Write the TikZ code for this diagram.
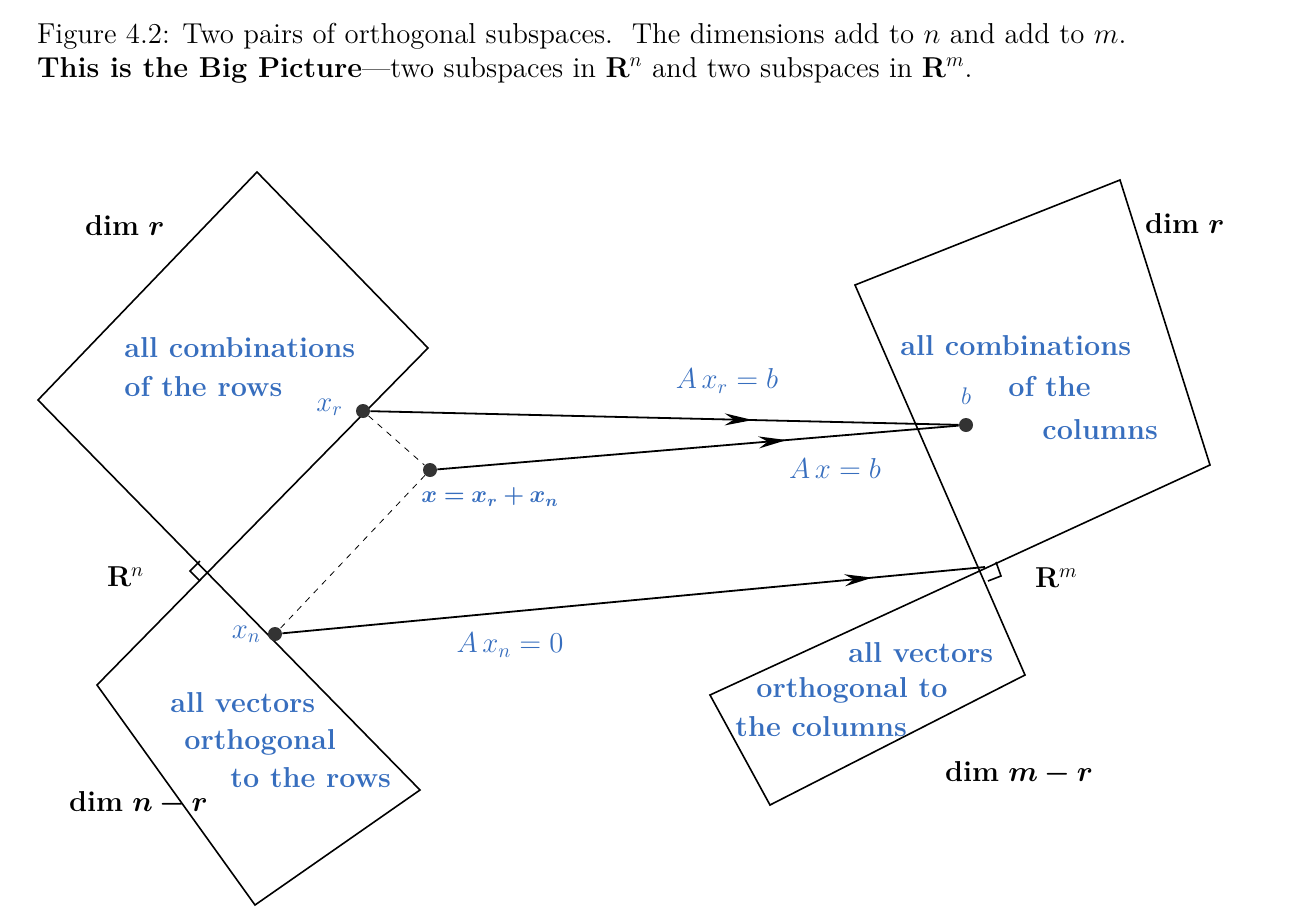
\documentclass[tikz,border=0pt]{standalone}
\usepackage{amsmath,bm}
\usetikzlibrary{decorations.markings,arrows.meta}
\definecolor{lb}{RGB}{55,110,190}
\begin{document}
\begin{tikzpicture}[x=0.5pt,y=-0.5pt,
  sp/.style={draw,line width=0.8pt},
  lab/.style={text=lb,font=\bfseries\Large,anchor=west,inner sep=0pt},
  dimlab/.style={font=\Large,anchor=west},
  dot/.style={circle,fill=black!80,inner sep=0pt,minimum size=7pt},
  midarrow/.style={postaction={decorate},decoration={markings,mark=at position #1 with {\arrow{Stealth[length=14pt,width=6pt]}}}},
  vec/.style={line width=0.9pt}]
\useasboundingbox (0,0) rectangle (1314,916);
% caption
\node[anchor=west,font=\Large] (cap1) at (30,36) {Figure 4.2: Two pairs of orthogonal subspaces.\ \ The dimensions add to $n$ and add to $m$.};
\node[anchor=west,font=\Large] (cap2) at (30,70) {\textbf{This is the Big Picture}---two subspaces in $\mathbf{R}^n$ and two subspaces in $\mathbf{R}^m$.};
% left spaces
\draw[sp] (420,790) -- (38,400) -- (257,172) -- (428,348) -- (97,685) -- (255,905) -- cycle;
\draw[sp] (200,561) -- (190,571) -- (200,581);
% right spaces
\draw[sp] (1025,675) -- (855,285) -- (1120,180) -- (1210,465) -- (710,695) -- (770,805) -- cycle;
\draw[sp] (996,562) -- (1001,576) -- (988,581);
% labels
\node[dimlab] (d1) at (78,226) {\textbf{dim} $\bm{r}$};
\node[dimlab] (d2) at (1138,224) {\textbf{dim} $\bm{r}$};
\node[dimlab] (d3) at (62,803) {\textbf{dim} $\bm{n-r}$};
\node[dimlab] (d4) at (938,773) {\textbf{dim} $\bm{m-r}$};
\node[dimlab] (rn) at (100,577) {$\mathbf{R}^{n}$};
\node[dimlab] (rm) at (1028,578) {$\mathbf{R}^{m}$};
\node[lab] (t1a) at (124,348) {all combinations};
\node[lab] (t1b) at (124,387) {of the rows};
\node[lab] (t2) at (900,346) {all combinations};
\node[lab] (t3) at (1008,387) {of the};
\node[lab] (t4) at (1042,430) {columns};
\node[lab] (t5a) at (170,703) {all vectors};
\node[lab] (t5b) at (184,742) {orthogonal};
\node[lab] (t5c) at (230,778) {to the rows};
\node[lab] (t6a) at (848,653) {all vectors};
\node[lab] (t6b) at (756,690) {orthogonal to};
\node[lab] (t6c) at (735,727) {the columns};
% points
\node[dot] (xr) at (363,411) {};
\node[dot] (x) at (430,470) {};
\node[dot] (xn) at (275,634) {};
\node[dot] (b) at (966,425) {};
\coordinate (o) at (985,567);
\node[text=lb,font=\Large,anchor=east] at (350,407) {$x_r$};
\node[text=lb,font=\Large,anchor=east] at (268,634) {$x_n$};
\node[text=lb,font=\large] at (966,396) {$b$};
\node[text=lb,font=\large] at (490,497) {$\bm{x=x_r+x_n}$};
\node[text=lb,font=\Large] at (727,381) {$A\,x_r=b$};
\node[text=lb,font=\Large] at (835,468) {$A\,x=b$};
\node[text=lb,font=\Large] at (510,645) {$A\,x_n=0$};
% vectors
\draw[vec,midarrow=0.65] (xr) -- (b);
\draw[vec,midarrow=0.67] (x) -- (b);
\draw[vec,midarrow=0.84] (xn) -- (o);
\draw[dashed] (xr) -- (x) -- (xn);
\end{tikzpicture}
\end{document}
